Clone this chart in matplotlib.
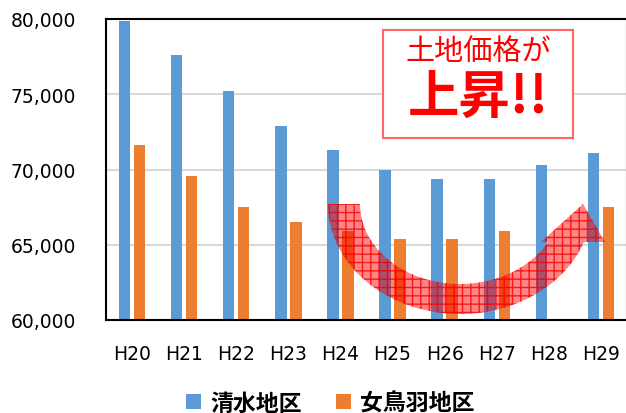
import numpy as np
import matplotlib.pyplot as plt
import matplotlib.transforms as mtransforms
from matplotlib.path import Path
from matplotlib.patches import PathPatch, Rectangle
from matplotlib.ticker import FuncFormatter

plt.rcParams['font.family'] = ['DejaVu Sans', 'Noto Sans CJK JP']

# データ（円/m²）
years = ['H20', 'H21', 'H22', 'H23', 'H24', 'H25', 'H26', 'H27', 'H28', 'H29']
shimizu = [79900, 77600, 75200, 72900, 71300, 70000, 69400, 69400, 70300, 71100]
metoba = [71600, 69600, 67500, 66500, 65900, 65400, 65400, 65900, np.nan, 67500]

fig = plt.figure(figsize=(6.26, 4.14), dpi=100)
ax = fig.add_axes([106 / 626, 1 - 321 / 414, 521 / 626, 301 / 414])

x = np.arange(len(years))
w = 0.217
ax.bar(x - 0.144, shimizu, w, color='#5B9BD5', label='清水地区', zorder=2)
ax.bar(x + 0.144, metoba, w, color='#ED7D31', label='女鳥羽地区', zorder=2)

ax.set_xlim(-0.5, 9.5)
ax.set_ylim(60000, 80000)
ax.set_xticks(x)
ax.set_xticklabels(years)
ax.set_yticks(np.arange(60000, 80001, 5000))
ax.yaxis.set_major_formatter(FuncFormatter(lambda v, p: f'{int(v):,}'))
ax.grid(axis='y', color='#D9D9D9', lw=1.5, zorder=0)
ax.tick_params(axis='y', length=0, labelsize=13.5, pad=21.5)
ax.tick_params(axis='x', length=0, labelsize=13.5, pad=17)
for s in ax.spines.values():
    s.set_color('black')
    s.set_linewidth(1.5)

# 画像ピクセル座標（y下向き）
px = mtransforms.Affine2D().scale(1 / 626, -1 / 414).translate(0, 1) + fig.transFigure

# 曲がった矢印
cx, cy = 460, 205
a_out, b_out = 132, 110
a_in, b_in = 100, 80
y_end = 243
t_out = np.arcsin((y_end - cy) / b_out)
t_in = np.arcsin((y_end - cy) / b_in)
th_o = np.linspace(np.pi, t_out, 80)
th_i = np.linspace(t_in, np.pi, 80)
outer = np.column_stack([cx + a_out * np.cos(th_o), cy + b_out * np.sin(th_o)])
inner = np.column_stack([cx + a_in * np.cos(th_i), cy + b_in * np.sin(th_i)])
head = np.array([[605, 243], [583, 205], [541, 243]])
verts = np.vstack([outer, head, inner, outer[:1]])
codes = [Path.MOVETO] + [Path.LINETO] * (len(verts) - 2) + [Path.CLOSEPOLY]
arrow_path = Path(verts, codes)
ax.add_patch(PathPatch(arrow_path, transform=px, facecolor=(1, 0, 0, 0.48),
                       edgecolor='none', zorder=4, clip_on=False))
ax.add_patch(PathPatch(arrow_path, transform=px, facecolor='none',
                       edgecolor=(0.95, 0, 0, 0.8), lw=0, hatch='++',
                       zorder=5, clip_on=False))

# テキストボックス
ax.add_patch(Rectangle((383, 31), 190, 108, transform=px, facecolor='white',
                       edgecolor='#FF6666', lw=1.5, zorder=6, clip_on=False))
ax.text(478, 52, '土地価格が', transform=px, ha='center', va='center',
        fontsize=21, color='#FF0000', family=['Noto Sans CJK JP'], zorder=7)
ax.text(478, 97, '上昇!!', transform=px, ha='center', va='center',
        fontsize=37, fontweight='bold', color='#FF0000',
        family=['Noto Sans CJK JP'], zorder=7)

leg = fig.legend(loc='center', bbox_to_anchor=(330 / 626, 1 - 404 / 414),
                 ncol=2, frameon=False, handlelength=0.65, handleheight=0.65,
                 handletextpad=0.4, columnspacing=1.5,
                 prop={'family': ['Noto Sans CJK JP'], 'size': 16.5,
                       'weight': 'bold'})

fig.savefig('out.png', dpi=100)
